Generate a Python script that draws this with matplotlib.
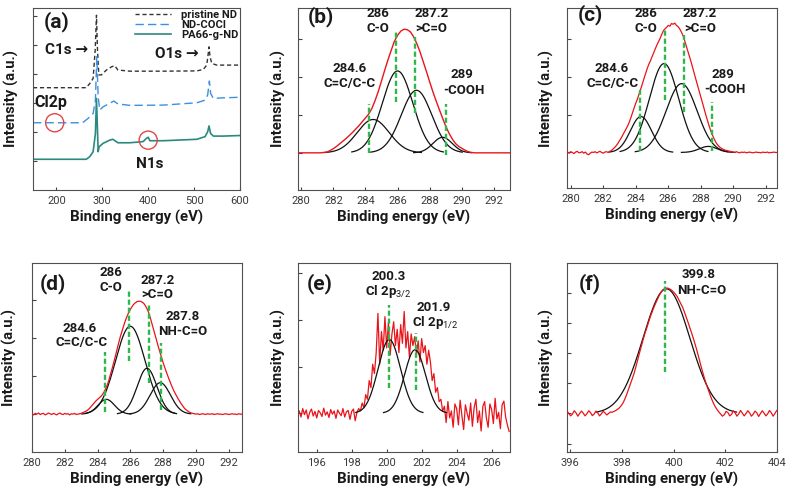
import numpy as np
import matplotlib
matplotlib.use('Agg')
import matplotlib.pyplot as plt

plt.rcParams['font.family'] = ['Roboto', 'DejaVu Sans']
plt.rcParams['mathtext.fontset'] = 'custom'
plt.rcParams['mathtext.rm'] = 'Roboto'
plt.rcParams['mathtext.it'] = 'Roboto:italic'
plt.rcParams['mathtext.bf'] = 'Roboto:bold'

# ---------------- data ----------------
# (a) survey spectra
a_pristine_x = [149, 265, 273, 280, 284.5, 287.3, 289.5, 292.4, 298, 309, 320, 327, 334, 360, 433, 506, 520, 527.5, 530, 532.5, 534.7, 538.4, 549, 600]
a_pristine_y = [3.53, 3.53, 3.68, 3.85, 4.83, 6.03, 4.83, 3.97, 3.97, 4.14, 4.25, 4.29, 4.14, 4.10, 4.10, 4.11, 4.16, 4.31, 4.60, 4.94, 4.60, 4.37, 4.31, 4.31]
a_cocl_x = [149, 257, 269, 280, 285, 288, 291, 294.5, 301.7, 316, 325, 334, 360, 433, 506, 523.8, 529.6, 533.3, 536, 542, 563.8, 600]
a_cocl_y = [2.32, 2.32, 2.47, 2.64, 3.10, 4.60, 3.22, 2.76, 2.87, 2.99, 3.07, 2.97, 2.92, 2.93, 3.01, 3.10, 3.28, 3.76, 3.33, 3.16, 3.18, 3.20]
a_pa66_x = [149, 265, 272.7, 280, 285, 287.3, 291, 293, 301.7, 316, 323, 334, 360, 389, 396, 400, 403.6, 433, 506, 523.8, 529.6, 532.5, 536, 542, 563.8, 600]
a_pa66_y = [1.06, 1.06, 1.15, 1.32, 1.95, 3.16, 1.32, 1.49, 1.61, 1.72, 1.75, 1.63, 1.63, 1.67, 1.78, 1.82, 1.70, 1.70, 1.75, 1.84, 2.01, 2.21, 1.95, 1.86, 1.86, 1.88]
a_legend = ['pristine ND', 'ND-COCl', 'PA66-g-ND']
a_circle_x = [196.3, 400.0]
a_circle_y = [2.32, 1.72]

# (b) C1s pristine ND
b_start, b_step = 279.8, 0.2
b_red = [0.0, 0.0, 0.0, 0.0, 0.0, 0.0, 0.0, 0.0,
         0.01, 0.02, 0.06, 0.11, 0.17, 0.24, 0.31, 0.38, 0.46, 0.54, 0.63, 0.72,
         0.82, 0.92, 1.02, 1.17, 1.38, 1.62, 1.90, 2.18, 2.45, 2.70, 2.94, 3.10,
         3.21, 3.26, 3.25, 3.19, 3.06, 2.88, 2.66, 2.40, 2.14, 1.87, 1.61, 1.37,
         1.14, 0.92, 0.70, 0.52, 0.37, 0.25, 0.17, 0.12, 0.07, 0.03, 0.01, 0.0,
         0.0, 0.0, 0.0, 0.0, 0.0, 0.0, 0.0, 0.0, 0.0, 0.0, 0.0]
b_center = [284.48, 286.00, 287.18, 288.80]
b_height = [0.88, 2.16, 1.65, 0.41]
b_sigma = [1.0, 0.95, 0.95, 0.6]
b_marker = [284.22, 285.88, 287.07, 289.04]

# (c) C1s ND-COCl
c_start, c_step = 279.8, 0.1
c_red = [0.01, -0.02, 0.02, 0.0, -0.03, 0.01, 0.03, -0.01, 0.0, 0.02, -0.02, 0.01, -0.04, -0.06,
         -0.02, 0.01, 0.0, 0.02, -0.01, 0.01, 0.03, 0.0, -0.02, 0.01, 0.02, 0.0, 0.03,
         0.05, 0.09, 0.13, 0.18, 0.24, 0.31, 0.38, 0.46, 0.54, 0.62, 0.70, 0.80, 0.92, 1.05,
         1.18, 1.30, 1.41, 1.54, 1.67, 1.81, 1.95, 2.08, 2.21, 2.33, 2.42, 2.53, 2.63, 2.74,
         2.84, 2.93, 3.02, 3.12, 3.22, 3.27, 3.31, 3.36, 3.34, 3.41, 3.39, 3.42, 3.36, 3.33,
         3.27, 3.19, 3.10, 2.97, 2.83, 2.70, 2.55, 2.40, 2.24, 2.08, 1.93, 1.78, 1.63, 1.48,
         1.32, 1.16, 1.01, 0.86, 0.72, 0.59, 0.48, 0.38, 0.29, 0.22, 0.17, 0.13, 0.10, 0.08,
         0.06, 0.05, 0.04, 0.03, 0.02,
         0.01, 0.0, 0.02, 0.0, -0.01, 0.01, 0.0, 0.01, -0.01, 0.0, 0.01, 0.0, -0.01, 0.0,
         0.01, 0.0, 0.0, -0.01, 0.01, 0.0, 0.0, 0.01, -0.01, 0.0, 0.0, 0.01, 0.0, 0.0]
c_center = [284.32, 285.74, 286.82, 288.46]
c_height = [0.95, 2.35, 1.82, 0.16]
c_sigma = [0.65, 0.9, 0.95, 0.55]
c_marker = [284.26, 285.80, 286.97, 288.67]

# (d) C1s PA66-g-ND
d_start, d_step = 280.0, 0.1
d_red = [0.01, -0.02, 0.02, 0.0, 0.03, -0.01, 0.01, 0.02, -0.02, 0.0, 0.03, 0.01, -0.01, 0.02, 0.0,
         -0.02, 0.01, 0.03, 0.0, -0.01, 0.02, 0.0, 0.01, -0.02, 0.01, 0.0, 0.02, -0.01, 0.0, 0.01,
         0.02, 0.04, 0.06, 0.08, 0.11, 0.15, 0.20, 0.25, 0.30, 0.35, 0.39, 0.43, 0.47, 0.52,
         0.59, 0.68, 0.78, 0.92, 1.07, 1.23, 1.39, 1.56, 1.74, 1.91, 2.07, 2.21, 2.35, 2.48,
         2.59, 2.69, 2.77, 2.84, 2.90, 2.94, 2.97, 2.98, 2.98, 2.96, 2.93, 2.87, 2.79, 2.69,
         2.56, 2.41, 2.25, 2.09, 1.93, 1.78, 1.63, 1.49, 1.35, 1.22, 1.10, 0.98, 0.87, 0.76,
         0.66, 0.57, 0.49, 0.41, 0.34, 0.27, 0.21, 0.15, 0.11, 0.08, 0.05, 0.03, 0.02, 0.01,
         0.0, 0.01, -0.01, 0.0, 0.01, 0.0, -0.01, 0.01, 0.0, 0.0, 0.01, -0.01, 0.0, 0.01, 0.0,
         0.0, -0.01, 0.0, 0.01, 0.0, -0.01, 0.0, 0.01, 0.0, 0.0, -0.01, 0.01, 0.0, 0.0]
d_center = [284.53, 285.99, 287.01, 287.82]
d_height = [0.39, 2.32, 1.21, 0.83]
d_sigma = [0.5, 0.9, 0.6, 0.62]
d_marker = [284.47, 285.93, 287.15, 287.87]

# (e) Cl 2p ND-COCl
e_start, e_step = 195.0, 0.1
e_red = [0.05, -0.08, 0.10, -0.03, 0.07, -0.12, 0.02, 0.09, -0.06, 0.04,
         -0.10, 0.06, 0.01, -0.07, 0.11, -0.04, 0.03, -0.09, 0.08, -0.02,
         0.05, -0.11, 0.07, 0.00, -0.05, 0.10, -0.08, 0.03, 0.06, -0.13,
         0.04, 0.09, -0.16, 0.02,
         0.10, 0.05, 0.22, 0.12, 0.40, 0.30, 0.70, 0.55, 1.05, 0.85,
         1.30, 2.14, 1.05, 1.75, 1.35, 2.07, 1.40, 1.95, 1.25, 1.70,
         1.96, 1.45, 1.80, 1.30, 1.90, 1.50, 2.18, 1.40, 1.75, 1.20,
         1.70, 1.45, 1.64, 1.25, 1.55, 1.10, 1.60, 1.30, 1.45, 1.05, 1.35,
         1.10, 0.70, 0.85, 0.45, 0.55, 0.25, 0.30, 0.05,
         0.15, -0.20, 0.25, -0.10, 0.05, -0.30, 0.20, 0.10, -0.25, 0.28,
         -0.05, -0.35, 0.18, 0.00, -0.15, 0.22, -0.28, 0.12, 0.30, -0.20,
         0.05, -0.38, 0.15, 0.25, -0.10, -0.30, 0.20, 0.08, -0.22, 0.32,
         -0.12, 0.02, -0.33, 0.18, 0.26, -0.08, -0.25, -0.39]
e_center = [200.15, 201.62]
e_height = [1.58, 1.36]
e_sigma = [0.64, 0.60]
e_marker = [200.15, 201.65]

# (f) N1s PA66-g-ND
f_start, f_step = 395.87, 0.07
f_red = [0.08, 0.0, -0.08, -0.02, 0.09, 0.02, -0.09, 0.0, 0.08, 0.01, -0.08, -0.01, 0.09, 0.03,
         -0.07, -0.02, 0.08, 0.02, -0.08, -0.01, 0.07, 0.02, -0.05, 0.0, 0.05, 0.04,
         0.07, 0.10, 0.14, 0.19, 0.26, 0.35, 0.48, 0.63, 0.80, 0.97, 1.14, 1.31, 1.53, 1.76,
         1.99, 2.21, 2.43, 2.64, 2.82, 3.01, 3.20, 3.36, 3.52, 3.66, 3.79, 3.92, 4.03, 4.11,
         4.15, 4.17, 4.16, 4.13, 4.09, 4.03, 3.96, 3.88, 3.76, 3.64, 3.52, 3.36, 3.19, 3.02,
         2.84, 2.66, 2.47, 2.27, 2.06, 1.83, 1.60, 1.38, 1.17, 0.98, 0.81, 0.64, 0.48, 0.34,
         0.22, 0.13, 0.05, -0.02, -0.09, -0.04, 0.07, 0.03, -0.08, -0.03, 0.09, 0.02, -0.09,
         -0.01, 0.10, 0.01, -0.08, 0.0, 0.09, 0.02, -0.09, -0.02, 0.08, 0.02, -0.10, 0.0,
         0.09, 0.01, -0.08, -0.01, 0.10, 0.02, -0.09, 0.0, 0.10]
f_center = [399.72]
f_height = [4.14]
f_sigma = [0.905]
f_marker = [399.68]

# ---------------- drawing ----------------
W, H = 787, 494
fig = plt.figure(figsize=(W / 100, H / 100), dpi=100)
RED = '#E8141A'
GREEN = '#2DB84B'
TXT = '#1a1a1a'
ANN = 9.5


def add_ax(l, t, r, b):
    return fig.add_axes([l / W, 1 - b / H, (r - l) / W, (b - t) / H])


def ftext(px, py, s, size=ANN, weight='bold'):
    fig.text(px / W, 1 - py / H, s, fontsize=size, fontweight=weight,
             ha='center', va='center', color=TXT)


def style(ax, box, xlim, ylim, xticks, yticks, ylab_px):
    l, t, r, b = box
    ax.set_xlim(*xlim)
    ax.set_ylim(*ylim)
    ax.set_xticks(xticks)
    ax.set_yticks(yticks)
    ax.set_yticklabels([])
    ax.tick_params(axis='y', direction='in', length=3, width=0.8, color='#444444')
    ax.tick_params(axis='x', direction='in', length=2, width=0.8, color='#444444',
                   pad=4, labelsize=8, labelcolor='#3a3a3a')
    for sp in ax.spines.values():
        sp.set_color('#505050')
        sp.set_linewidth(0.8)
    ax.set_xlabel('Binding energy (eV)', fontsize=10.8, fontweight='bold', color=TXT)
    ax.set_ylabel('Intensity (a.u.)', fontsize=10.7, fontweight='bold', color=TXT)
    ax.yaxis.set_label_coords((ylab_px + 7.5 - l) / (r - l), 0.5)
    ax.xaxis.set_label_coords(0.5, -19.5 / (b - t))


def red_x(start, step, vals):
    return start + step * np.arange(len(vals))


def components(ax, centers, heights, sigmas, xlim, zorder=2):
    for c, h, s in zip(centers, heights, sigmas):
        lo = max(xlim[0], c - 3.0 * s)
        hi = min(xlim[1], c + 3.0 * s)
        xx = np.linspace(lo, hi, 300)
        ax.plot(xx, h * np.exp(-(xx - c) ** 2 / (2 * s ** 2)), color='#111111', lw=0.9, zorder=zorder)


def markers(ax, xs, spans):
    for x, (y0, y1) in zip(xs, spans):
        ax.plot([x, x], [y0, y1], color=GREEN, lw=1.7, dashes=(2.2, 1.2), zorder=4)


# ---- (a)
box = (33, 8, 240, 190)
ax = add_ax(*box)
ax.plot(a_pristine_x, a_pristine_y, color='#333333', lw=1.0, dashes=(3, 2), label=a_legend[0])
ax.plot(a_cocl_x, a_cocl_y, color='#3D8FE0', lw=1.0, dashes=(6, 3), label=a_legend[1])
ax.plot(a_pa66_x, a_pa66_y, color='#2A8A80', lw=1.2, label=a_legend[2])
ax.scatter(a_circle_x, a_circle_y, s=170, facecolors='none', edgecolors='#E04848', linewidths=1.0, zorder=5)
style(ax, box, (149, 600), (0, 6.28), [200, 300, 400, 500, 600], [1, 2, 3, 4, 5, 6], 12)
leg = ax.legend(loc='upper right', bbox_to_anchor=(1.0, 1.0), frameon=False,
                handlelength=3.2, handletextpad=0.9, labelspacing=0.0,
                borderaxespad=0.0, borderpad=0.15,
                prop={'size': 8, 'weight': 'bold'})
for t in leg.get_texts():
    t.set_color(TXT)
ftext(56.5, 22, '(a)', size=15)
ftext(67, 50, 'C1s \u2192', size=11)
ftext(177, 54, 'O1s \u2192', size=11)
ftext(51, 102, 'Cl2p', size=11.5)
ftext(149.5, 164, 'N1s', size=11)

# ---- (b)
box = (298, 8, 510, 190)
ax = add_ax(*box)
xl = (279.8, 293.0)
components(ax, b_center, b_height, b_sigma, xl)
ax.plot(red_x(b_start, b_step, b_red), b_red, color=RED, lw=1.0, zorder=3)
markers(ax, b_marker, [(0.0, 1.3), (1.35, 3.24), (1.04, 3.06), (-0.05, 1.3)])
style(ax, box, xl, (-0.98, 3.82), range(280, 293, 2), [0, 1, 2, 3], 278)
ftext(320.5, 17, '(b)', size=15)
ftext(378.3, 13.3, '286'); ftext(378.3, 28.3, 'C-O')
ftext(431.7, 13.3, '287.2'); ftext(431.7, 28.3, '>C=O')
ftext(349.5, 68.3, '284.6'); ftext(350, 83.3, 'C=C/C-C')
ftext(462.3, 74, '289'); ftext(464, 90, '-COOH')

# ---- (c)
box = (567, 8, 777, 188)
ax = add_ax(*box)
xl = (279.77, 292.69)
components(ax, c_center, c_height, c_sigma, xl)
ax.plot(red_x(c_start, c_step, c_red), c_red, color=RED, lw=0.9, zorder=3)
markers(ax, c_marker, [(0.03, 1.65), (1.39, 3.27), (1.08, 3.10), (0.03, 1.34)])
style(ax, box, xl, (-0.94, 3.82), range(280, 293, 2), [0, 1, 2, 3], 547)
ftext(590, 15, '(c)', size=15)
ftext(645.8, 13.3, '286'); ftext(645.8, 28.3, 'C-O')
ftext(700, 13.3, '287.2'); ftext(700, 28.3, '>C=O')
ftext(611.7, 68.3, '284.6'); ftext(612.3, 83.3, 'C=C/C-C')
ftext(723.3, 74, '289'); ftext(725, 89.3, '-COOH')

# ---- (d)
box = (32, 263, 242, 452)
ax = add_ax(*box)
xl = (280.0, 292.8)
components(ax, d_center, d_height, d_sigma, xl)
ax.plot(red_x(d_start, d_step, d_red), d_red, color=RED, lw=0.9, zorder=3)
markers(ax, d_marker, [(0.06, 1.65), (1.39, 3.29), (0.81, 2.89), (0.10, 1.88)])
style(ax, box, xl, (-1.0, 3.99), range(280, 293, 2), [0, 1, 2, 3], 10)
ftext(53.3, 283.3, '(d)', size=15)
ftext(110.7, 272.7, '286'); ftext(110.7, 287.3, 'C-O')
ftext(157.3, 280, '287.2'); ftext(157.3, 294.3, '>C=O')
ftext(182.3, 316.7, '287.8'); ftext(182.3, 331.7, 'NH-C=O')
ftext(80, 328.3, '284.6'); ftext(81.7, 342.7, 'C=C/C-C')

# ---- (e)
box = (298, 263, 510, 452)
ax = add_ax(*box)
xl = (194.93, 207.05)
ax.plot(red_x(e_start, e_step, e_red), e_red, color=RED, lw=0.9, zorder=2)
components(ax, e_center, e_height, e_sigma, xl, zorder=3)
markers(ax, e_marker, [(0.54, 2.32), (0.50, 1.71)])
style(ax, box, xl, (-0.83, 3.22), range(196, 207, 2), [0, 1, 2, 3], 278)
ftext(320, 283.3, '(e)', size=15)
ftext(389, 276, '200.3'); ftext(388.3, 291.7, 'Cl 2p$_{3/2}$')
ftext(433.3, 307.3, '201.9'); ftext(435, 322.7, 'Cl 2p$_{1/2}$')

# ---- (f)
box = (567, 263, 777, 452)
ax = add_ax(*box)
xl = (395.87, 404.0)
components(ax, f_center, f_height, f_sigma, xl)
ax.plot(red_x(f_start, f_step, f_red), f_red, color=RED, lw=0.9, zorder=3)
markers(ax, f_marker, [(1.39, 4.39)])
style(ax, box, xl, (-1.28, 5.0), range(396, 405, 2), [-1, 0, 1, 2, 3, 4], 547)
ftext(590, 283.3, '(f)', size=15)
ftext(699, 275, '399.8'); ftext(701.7, 290.7, 'NH-C=O')

fig.savefig('out.png', dpi=100)
